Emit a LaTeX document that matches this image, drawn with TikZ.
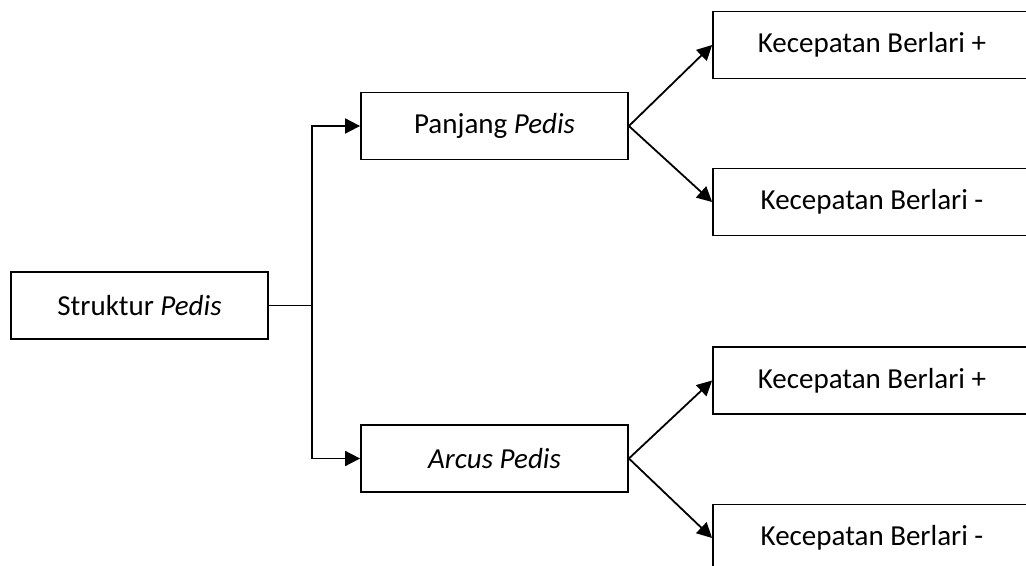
\documentclass[tikz,border=0pt]{standalone}
\usepackage{fontspec}
\setmainfont{Carlito}
\usepackage{tikz}
\usetikzlibrary{arrows.meta}

\tikzset{
    box/.style={draw=black, line width=0.9pt, fill=white, inner sep=0pt,
        minimum height=33.5pt, font=\fontsize{14.5pt}{17pt}\selectfont},
    leftbox/.style={box, minimum width=128.5pt},
    midbox/.style={box, minimum width=133.5pt},
    endbox/.style={box, minimum width=159pt},
    link/.style={draw=black, line width=0.9pt},
    arrow/.style={link, -{Triangle[length=7.5pt, width=7.5pt]}}
}

\begin{document}
\begin{tikzpicture}[x=0.5pt, y=-0.5pt]
    \clip (0,0) rectangle (1026,566);
    \fill[white] (0,0) rectangle (1026,566);

    % first level
    \node[leftbox] (struktur) at (139.5,305.5) {Struktur \textit{Pedis}};
    \coordinate (split) at (312,305.5);

    % second level
    \node[midbox] (panjang) at (494.5,126) {Panjang \textit{Pedis}};
    \node[midbox] (arcus) at (494.5,458.5) {\textit{Arcus Pedis}};

    % third level
    \node[endbox] (panjangplus) at (872,45) {Kecepatan Berlari +};
    \node[endbox] (panjangminus) at (872,202) {Kecepatan Berlari -};
    \node[endbox] (arcusplus) at (872,380.5) {Kecepatan Berlari +};
    \node[endbox] (arcusminus) at (872,538) {Kecepatan Berlari -};

    \draw[link] (struktur.east) -- (split);
    \draw[arrow] (split) |- (panjang.west);
    \draw[arrow] (split) |- (arcus.west);

    \draw[arrow] (panjang.east) -- (panjangplus.west);
    \draw[arrow] (panjang.east) -- (panjangminus.west);
    \draw[arrow] (arcus.east) -- (arcusplus.west);
    \draw[arrow] (arcus.east) -- (arcusminus.west);
\end{tikzpicture}
\end{document}
